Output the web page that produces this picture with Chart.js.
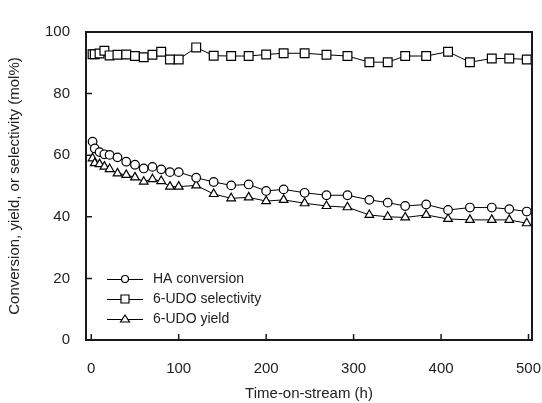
<!DOCTYPE html>
<html>
<head>
<meta charset="utf-8">
<script src="https://cdn.jsdelivr.net/npm/chart.js@4"></script>
<style>
  html, body { margin: 0; padding: 0; background: #fff; }
</style>
</head>
<body>
<canvas id="chart" width="542" height="403"></canvas>
<script>
// 時間 (h)
const hours = [1.5, 4, 9.5, 15, 21, 30, 40, 50, 60, 70, 80, 90, 100, 120, 140, 160, 180, 200, 220, 244, 269, 293, 318, 339, 359, 383, 408, 433, 458, 478, 498];

// HA conversion
const conversion = [64.4, 62.2, 61.0, 60.3, 60.1, 59.3, 57.9, 56.9, 55.7, 56.2, 55.4, 54.5, 54.5, 52.7, 51.3, 50.2, 50.5, 48.4, 48.9, 47.8, 47.0, 47.0, 45.5, 44.6, 43.5, 44.0, 42.2, 43.0, 43.0, 42.5, 41.7];

// 6-UDO selectivity
const selectivity = [92.8, 92.8, 93.0, 93.9, 92.4, 92.6, 92.7, 92.2, 91.8, 92.6, 93.6, 91.1, 91.1, 95.0, 92.3, 92.2, 92.2, 92.7, 93.1, 93.1, 92.6, 92.2, 90.2, 90.2, 92.2, 92.2, 93.6, 90.2, 91.4, 91.4, 91.1];

// 6-UDO yield
const udoYield = [59.0, 57.4, 57.1, 56.3, 55.5, 54.1, 53.6, 52.8, 51.4, 52.2, 51.6, 49.8, 49.8, 50.2, 47.4, 46.0, 46.3, 45.1, 45.5, 44.4, 43.5, 43.1, 40.6, 40.0, 39.8, 40.6, 39.3, 39.0, 39.0, 39.0, 37.9];

const seriesLabels = ['HA conversion', '6-UDO selectivity', '6-UDO yield'];
const xTicks = [0, 100, 200, 300, 400, 500];
const yTicks = [0, 20, 40, 60, 80, 100];

const FONT = '"Liberation Sans", Arial, sans-serif';
const INK = '#222';

function toPoints(values) {
    return values.map((v, i) => ({ x: hours[i], y: v }));
}

function makeDataset(label, values, style, radius) {
    return {
        label: label,
        data: toPoints(values),
        borderColor: '#000',
        borderWidth: 1,
        fill: false,
        pointStyle: style,
        pointRadius: radius,
        pointBorderWidth: 1.2,
        pointBorderColor: '#000',
        pointBackgroundColor: '#fff',
        tension: 0
    };
}

// 枠・内向き目盛り・凡例
const framePlugin = {
    id: 'plotFrame',
    afterDraw(chart) {
        const c = chart.ctx;
        const a = chart.chartArea;
        const xs = chart.scales.x;
        const ys = chart.scales.y;
        c.save();
        c.strokeStyle = '#1a1a1a';
        c.lineWidth = 2;
        c.strokeRect(a.left, a.top, a.right - a.left, a.bottom - a.top);
        c.lineWidth = 1.5;
        c.beginPath();
        xTicks.forEach(v => {
            const px = xs.getPixelForValue(v);
            c.moveTo(px, a.bottom);
            c.lineTo(px, a.bottom - 6);
        });
        yTicks.forEach(v => {
            const py = ys.getPixelForValue(v);
            c.moveTo(a.left, py);
            c.lineTo(a.left + 6, py);
        });
        c.stroke();

        const rowY = [279, 299, 319];
        const styles = ['circle', 'rect', 'triangle'];
        c.font = '14px ' + FONT;
        c.textBaseline = 'middle';
        rowY.forEach((y, i) => {
            c.strokeStyle = '#000';
            c.lineWidth = 1;
            c.beginPath();
            c.moveTo(107, y + 0.5);
            c.lineTo(143, y + 0.5);
            c.stroke();
            c.lineWidth = 1.2;
            c.fillStyle = '#fff';
            c.beginPath();
            if (styles[i] === 'circle') {
                c.arc(125, y, 3.5, 0, Math.PI * 2);
            } else if (styles[i] === 'rect') {
                c.rect(121, y - 4, 8, 8);
            } else {
                c.moveTo(125, y - 4);
                c.lineTo(129.5, y + 3);
                c.lineTo(120.5, y + 3);
                c.closePath();
            }
            c.fill();
            c.stroke();
            c.fillStyle = INK;
            c.fillText(seriesLabels[i], 153, y);
        });
        c.restore();
    }
};

const chart = new Chart(document.getElementById('chart'), {
    type: 'line',
    data: {
        datasets: [
            makeDataset(seriesLabels[0], conversion, 'circle', 4.3),
            makeDataset(seriesLabels[1], selectivity, 'rect', 6.2),
            makeDataset(seriesLabels[2], udoYield, 'triangle', 5)
        ]
    },
    options: {
        responsive: false,
        animation: false,
        layout: {
            padding: { top: 32, right: 10, left: 0, bottom: 0 }
        },
        plugins: {
            legend: { display: false },
            tooltip: { enabled: false }
        },
        scales: {
            x: {
                type: 'linear',
                min: -6,
                max: 504,
                grid: { display: false },
                border: { display: false },
                afterBuildTicks: s => { s.ticks = xTicks.map(v => ({ value: v })); },
                afterFit: s => { s.height = 63; s.paddingLeft = 0; s.paddingRight = 0; },
                ticks: {
                    color: INK,
                    font: { family: FONT, size: 15 },
                    padding: 12,
                    maxRotation: 0
                },
                title: {
                    display: true,
                    text: 'Time-on-stream (h)',
                    color: INK,
                    font: { family: FONT, size: 15 },
                    padding: { top: 0, bottom: 0 }
                }
            },
            y: {
                min: 0,
                max: 100,
                grid: { display: false },
                border: { display: false },
                afterBuildTicks: s => { s.ticks = yTicks.map(v => ({ value: v })); },
                afterFit: s => { s.width = 86; s.paddingTop = 0; s.paddingBottom = 0; },
                ticks: {
                    color: INK,
                    font: { family: FONT, size: 15 },
                    padding: 8
                },
                title: {
                    display: true,
                    text: 'Conversion, yield, or selectivity (mol%)',
                    color: INK,
                    font: { family: FONT, size: 15 },
                    padding: { top: 6, bottom: 0 }
                }
            }
        }
    },
    plugins: [framePlugin]
});
</script>
</body>
</html>
